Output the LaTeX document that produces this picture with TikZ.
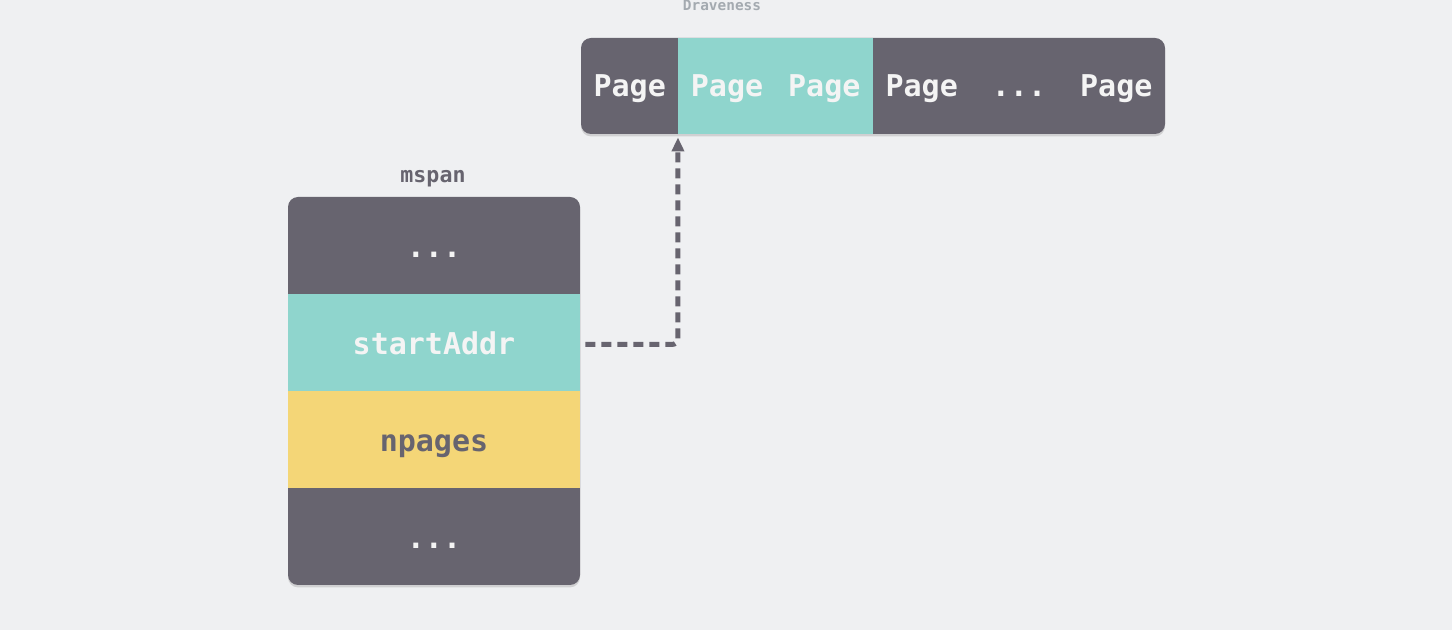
\documentclass[tikz,border=0pt]{standalone}
\usepackage{fontspec}
\setmonofont{DejaVu Sans Mono}
\usetikzlibrary{arrows.meta, shadows}

\definecolor{bgcol}{HTML}{EFF0F2}
\definecolor{slate}{HTML}{67646F}
\definecolor{mint}{HTML}{8FD5CD}
\definecolor{honey}{HTML}{F4D677}
\definecolor{chalk}{HTML}{F4F4F4}
\definecolor{faint}{HTML}{A4AAB0}

\begin{document}
\begin{tikzpicture}[x=0.5pt, y=-0.5pt,
          cell/.style={minimum width=48.65pt, minimum height=48pt, inner sep=0pt,
            text height=12pt, text depth=1pt,
            font=\ttfamily\bfseries\fontsize{15}{17}\selectfont, text=chalk},
          field/.style={minimum width=146pt, minimum height=48.5pt, inner sep=0pt,
            text height=13pt, text depth=1pt,
            font=\ttfamily\bfseries\fontsize{15}{17}\selectfont, text=chalk},
          caption/.style={font=\ttfamily\bfseries\fontsize{10.8}{12}\selectfont, text=slate},
          soft/.style={drop shadow={opacity=0.28, shadow xshift=0pt, shadow yshift=-1.2pt}},
          link/.style={slate, line width=2.5pt, dash pattern=on 5pt off 3pt,
            rounded corners=3pt, -{Triangle[length=7pt, width=6pt]}},
        ]
          \fill[bgcol] (0,0) rectangle (1452,630);
          \useasboundingbox (0,0) rectangle (1452,630);
          % page bar
          \fill[slate, rounded corners=5pt, soft] (581,38) rectangle (1165,134);
          \node[cell, fill=mint] (p2) at (727.0,86) {Page};
          \node[cell, fill=mint] (p3) at (824.3,86) {Page};
          \node[cell] (p1) at (629.7,86) {Page};
          \node[cell] (p4) at (921.7,86) {Page};
          \node[cell] (p5) at (1019.0,86) {...};
          \node[cell] (p6) at (1116.3,86) {Page};
          \node[font=\ttfamily\bfseries\fontsize{7.2}{8}\selectfont, text=faint] (author) at (722,5) {Draveness};
          % mspan struct
          \node[caption] (title) at (433,179) {mspan};
          \fill[slate, rounded corners=5pt, soft] (288,197) rectangle (580,585);
          \node[field] (head) at (434,245.5) {...};
          \node[field, fill=mint] (start) at (434,342.5) {startAddr};
          \node[field, fill=honey, text=slate] (npages) at (434,439.5) {npages};
          \node[field] (tail) at (434,536.5) {...};
          % pointer to first page
          \draw[link, shorten <=2.5pt, shorten >=1.5pt] ([yshift=-1pt]start.east) -| (p2.south west);
        \end{tikzpicture}
\end{document}
